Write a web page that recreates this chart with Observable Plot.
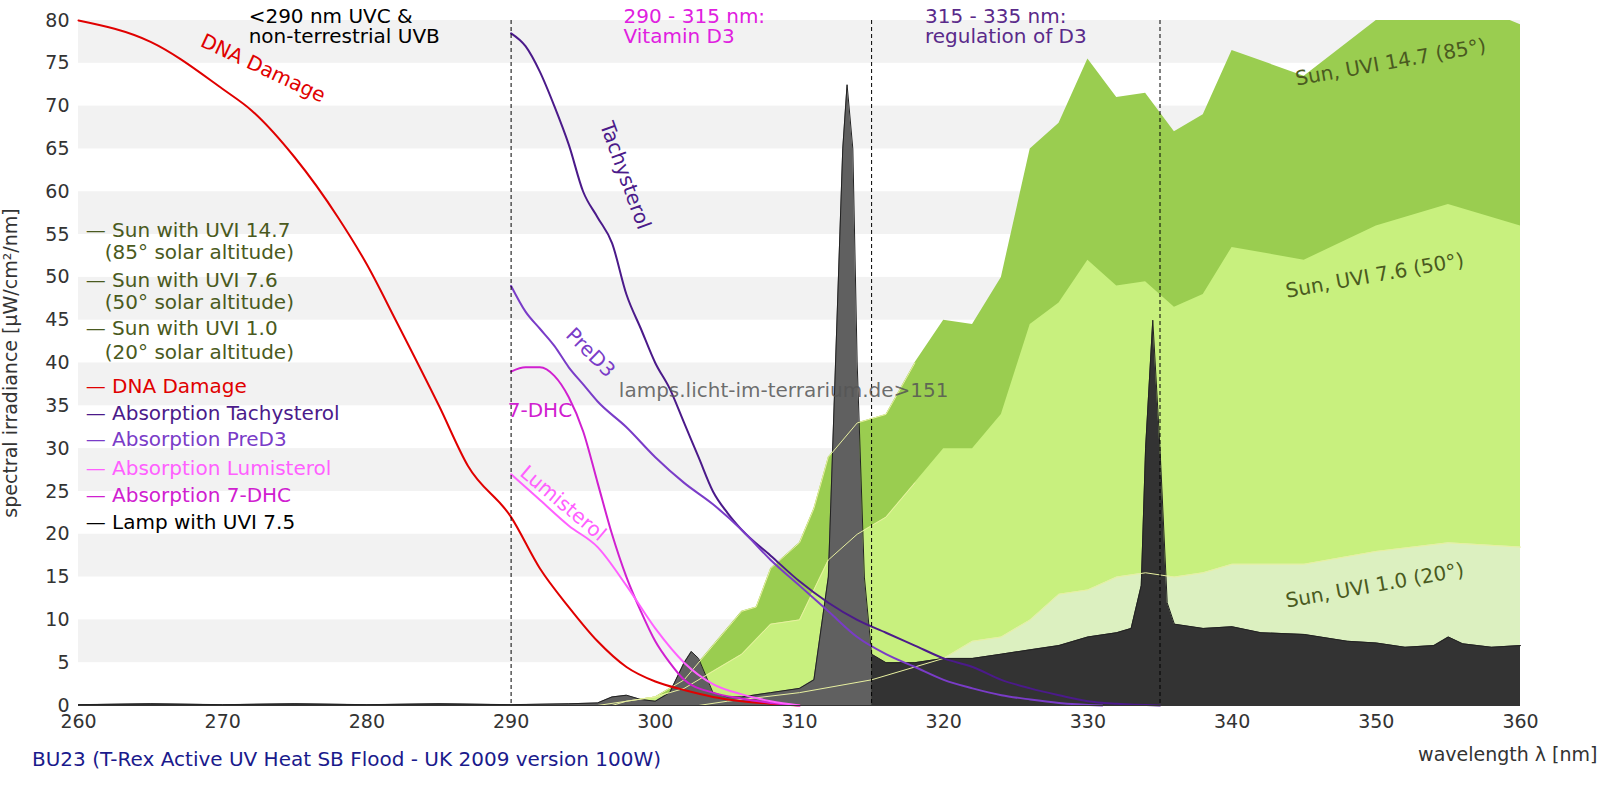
<!DOCTYPE html><html><head><meta charset="utf-8">
<script src="https://cdn.jsdelivr.net/npm/d3@7"></script>
<script src="https://cdn.jsdelivr.net/npm/@observablehq/plot@0.6"></script>
<style>html,body{margin:0;background:#fff;font-family:"DejaVu Sans";overflow:hidden;}#cap{position:absolute;left:32px;top:747px;color:#1a1a8c;font-size:20px}</style></head><body>
<div id="chart"></div><div id="cap">BU23 (T-Rex Active UV Heat SB Flood - UK 2009 version 100W)</div>
<script>
const sun147=[[296,0],[300,1],[302,3],[304,7],[306,11],[307,11.5],[308,16],[309,17.5],[310,19],[311,23],[312,29],[313,31],[314,33],[316,34],[318,40],[320,45],[322,44.5],[324,50],[326,65],[328,68],[330,75.5],[332,71],[334,71.5],[336,67],[338,69],[340,76.5],[345,73.5],[350,80],[355,83],[360,79.5]];
const sun76=[[297,0],[298,0.5],[300,1],[302,2],[304,4],[306,6],[308,9.5],[310,10],[312,17],[314,20],[316,22],[318,26],[320,30],[322,30],[324,34],[326,44.5],[328,47],[330,52],[332,49],[334,49.5],[336,46.5],[338,48],[340,53.5],[345,52],[350,56],[355,58.5],[360,56]];
const sun10=[[303,0],[305,0.5],[310,1.5],[315,3],[320,5.5],[322,7.5],[324,8],[326,10],[328,13],[330,13.5],[332,15],[334,15.5],[336,15],[338,15.5],[340,16.5],[345,16.5],[350,18],[355,19],[360,18.5]];
const lamp=[[260,0.1],[265,0.2],[270,0.1],[275,0.2],[280,0.1],[285,0.2],[290,0.1],[294,0.2],[296,0.3],[297,1],[298,1.2],[299,0.7],[300,0.5],[301,1.5],[302,5],[302.5,6.3],[303,5.5],[304,1.5],[305,1],[306,1],[308,1.5],[310,2],[311,3],[312,15],[312.5,40],[313,65],[313.3,72.5],[313.7,65],[314,40],[314.5,15],[315,6],[316,5],[318,5],[320,5.5],[322,5.5],[324,6],[326,6.5],[328,7],[330,8],[332,8.5],[333,9],[333.7,14],[334,30],[334.5,45],[335,30],[335.5,12],[336,9.5],[338,9],[340,9.2],[342,8.5],[345,8.3],[348,7.5],[350,7.3],[352,6.8],[354,7],[355,8],[356,7.2],[358,6.8],[360,7]];
const dna=[[260,80],[265,77.5],[270,72],[272,69.5],[275,64],[278,57],[280,51.5],[282,45],[285,35],[287,28],[290,22],[292,16],[294,11.5],[296,7.5],[298,4.5],[300,2.8],[302,1.8],[304,1],[306,0.5],[308,0.2],[310,0]];
const tachy=[[290,78.5],[291,77],[292,74],[293,70],[294,65.5],[295,60],[296,57],[297,54],[298,48],[299,44],[300,40],[301,37],[302,33],[303,29],[304,25],[305,22.5],[306,20.5],[308,17.5],[310,14.5],[312,12],[314,10],[316,8.5],[318,7],[320,5.5],[322,4.5],[324,3],[326,2],[328,1.2],[330,0.5],[332,0.2],[335,0]];
const pred3=[[290,49],[291,46],[292,44],[293,42],[294,39.5],[295,37.5],[296,35.5],[298,32.5],[300,29],[302,26],[304,23.5],[306,20.5],[308,17],[310,14],[312,11],[314,8],[316,6],[318,4.5],[320,3],[322,2],[324,1.2],[326,0.7],[328,0.3],[331,0]];
const dhc=[[290,39],[291,39.5],[292,39.5],[293,38.5],[294,36],[295,32],[296,26],[297,20],[298,15],[299,11],[300,7.5],[301,5],[302,3],[304,1.5],[306,0.8],[308,0.3],[310,0]];
const lumi=[[290,27],[292,24],[294,21],[296,18.5],[298,14],[300,9],[302,5],[304,2.5],[306,1.3],[308,0.5],[310,0]];
const bands=[[75,80],[65,70],[55,60],[45,50],[35,40],[25,30],[15,20],[5,10]];
const regions=[290,315,335];
const legend=[["— Sun with UVI 14.7","#4a5a20",55.5],["   (85° solar altitude)","#4a5a20",52.9],["— Sun with UVI 7.6","#4a5a20",49.6],["   (50° solar altitude)","#4a5a20",47],["— Sun with UVI 1.0","#4a5a20",44],["   (20° solar altitude)","#4a5a20",41.2],["— DNA Damage","#e00000",37.3],["— Absorption Tachysterol","#4b1a8a",34.1],["— Absorption PreD3","#7a3cc8",31],["— Absorption Lumisterol","#ff60ff",27.7],["— Absorption 7-DHC","#d020d0",24.5],["— Lamp with UVI 7.5","#000",21.4]];
const labels=[["DNA Damage",272.8,74.4,25,"#e00000"],["Tachysterol",297.9,61.9,70,"#4b1a8a"],["PreD3",295.5,41.2,45,"#7a3cc8"],["7-DHC",292,34.5,0,"#d020d0"],["Lumisterol",293.6,23.6,40,"#ff60ff"],["Sun, UVI 14.7 (85°)",351,75.1,-10,"#4a5a20"],["Sun, UVI 7.6 (50°)",349.9,50.2,-10,"#4a5a20"],["Sun, UVI 1.0 (20°)",349.9,14,-10,"#4a5a20"]];
const tops=[["<290 nm UVC &\nnon-terrestrial UVB",271.8,"#000"],["290 - 315 nm:\nVitamin D3",297.8,"#e020e0"],["315 - 335 nm:\nregulation of D3",318.7,"#5a2a8a"]];
const X=d=>d[0],Y=d=>d[1];
const ln=(data,stroke,w=2,curve="linear")=>Plot.line(data,{x:X,y:Y,stroke,strokeWidth:w,curve});
const chart=Plot.plot({width:1600,height:765,marginTop:20,marginBottom:60,marginLeft:78,marginRight:80,
 style:{fontFamily:"DejaVu Sans",fontSize:"19px",color:"#333"},
 x:{domain:[260,360],ticks:d3.range(260,361,10),label:"wavelength λ [nm]",labelAnchor:"right",labelArrow:false,labelOffset:55,tickSize:0},
 y:{domain:[0,80],ticks:d3.range(0,81,5),label:"spectral irradiance [µW/cm²/nm]",labelAnchor:"center",labelArrow:false,tickSize:0},
 marks:[
  Plot.rect(bands,{x1:260,x2:360,y1:d=>d[0],y2:d=>d[1],fill:"#f2f2f2"}),
  Plot.areaY(sun147,{x:X,y:Y,fill:"#9acd50",clip:true}),
  Plot.areaY(sun76,{x:X,y:Y,fill:"#c8f07e"}),
  Plot.areaY(sun10,{x:X,y:Y,fill:"#dcf0c0"}),
  Plot.areaY(lamp.filter(d=>d[0]<=290),{x:X,y:Y,fill:"#333"}),
  Plot.areaY(lamp.filter(d=>d[0]>=290&&d[0]<=315),{x:X,y:Y,fill:"#606060"}),
  Plot.areaY(lamp.filter(d=>d[0]>=315),{x:X,y:Y,fill:"#333"}),
  ln(lamp,"#222",1),
  ln(sun147.filter(d=>d[0]<=318),"#e8f0a0",1),ln(sun76.filter(d=>d[0]<=318),"#e8f0a0",1),ln(sun10,"#e8f0a0",1),
  ln(dna,"#e00000",2,"monotone-x"),ln(tachy,"#4b1a8a",2,"monotone-x"),ln(pred3,"#7a3cc8",2,"monotone-x"),ln(dhc,"#d020d0",2,"monotone-x"),ln(lumi,"#ff60ff",2,"monotone-x"),
  Plot.ruleX(regions,{stroke:"#000",strokeDasharray:"4,3",strokeWidth:1}),
  Plot.ruleY([0],{stroke:"#333"}),
  Plot.text(legend,{x:260.5,y:d=>d[2],text:d=>d[0],fill:d=>d[1],textAnchor:"start",fontSize:20}),
  Plot.text(labels,{x:d=>d[1],y:d=>d[2],text:d=>d[0],rotate:d=>d[3],fill:d=>d[4],fontSize:20}),
  Plot.text(tops,{x:d=>d[1],y:80,text:d=>d[0],fill:d=>d[2],textAnchor:"start",lineAnchor:"top",fontSize:20,dy:-12}),
  Plot.text(["lamps.licht-im-terrarium.de>151"],{x:308.9,y:36.8,text:d=>d,fill:"#555",fillOpacity:0.85,fontSize:20})
 ]});
document.getElementById("chart").append(chart);
</script></body></html>
